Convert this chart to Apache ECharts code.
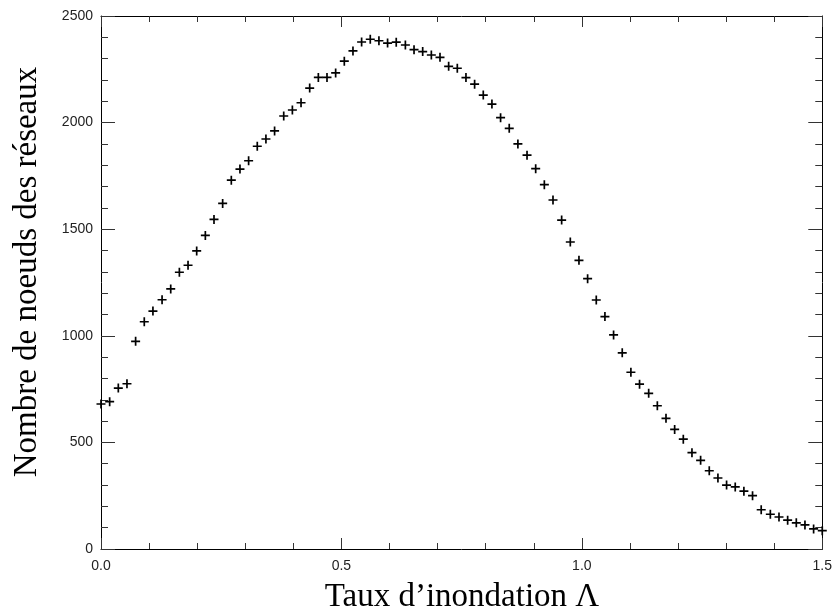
<!DOCTYPE html>
<html>
<head>
<meta charset="utf-8">
<script src="https://cdn.jsdelivr.net/npm/echarts@6/dist/echarts.min.js"></script>
<style>
html,body{margin:0;padding:0;background:#fff;}
#chart{width:835px;height:615px;}
</style>
</head>
<body>
<div id="chart"></div>
<script>
const xValues = [0.000,0.018,0.036,0.054,0.072,0.090,0.108,0.127,0.145,0.163,0.181,0.199,0.217,0.235,0.253,0.271,0.289,0.307,0.325,0.343,0.361,0.380,0.398,0.416,0.434,0.452,0.470,0.488,0.506,0.524,0.542,0.560,0.578,0.596,0.614,0.633,0.651,0.669,0.687,0.705,0.723,0.741,0.759,0.777,0.795,0.813,0.831,0.849,0.867,0.886,0.904,0.922,0.940,0.958,0.976,0.994,1.012,1.030,1.048,1.066,1.084,1.102,1.120,1.139,1.157,1.175,1.193,1.211,1.229,1.247,1.265,1.283,1.301,1.319,1.337,1.355,1.373,1.392,1.410,1.428,1.446,1.464,1.482,1.500];
const nodeCounts = [680,691,755,775,974,1066,1116,1169,1220,1298,1331,1398,1471,1546,1621,1730,1782,1821,1889,1923,1961,2031,2059,2093,2162,2212,2212,2233,2288,2336,2378,2391,2384,2373,2377,2364,2342,2333,2317,2306,2264,2255,2211,2180,2129,2087,2023,1973,1900,1847,1784,1709,1637,1543,1440,1354,1268,1168,1090,1004,920,829,773,730,672,613,561,515,452,416,367,333,300,291,271,250,184,163,150,135,123,113,94,86];
const xTitle = "Taux d\u2019inondation \u039B";
const yTitle = "Nombre de noeuds des r\u00e9seaux";

const chart = echarts.init(document.getElementById('chart'), null, {renderer:'canvas'});
const lineStyle = {color:'#000', width:1};
const tickStyle = {color:'#333', width:1};
const labelFont = {fontFamily:'Liberation Sans', fontSize:14, color:'#222'};
function xAx(pos, labels){
  return {type:'value', position:pos, min:0, max:1.5, interval:0.5,
    axisLine:{show:true, onZero:false, lineStyle:lineStyle},
    axisTick:{show:true, inside:true, length:11, lineStyle:tickStyle},
    minorTick:{show:true, splitNumber:5, length:6, lineStyle:tickStyle},
    splitLine:{show:false}, minorSplitLine:{show:false},
    axisLabel:Object.assign({show:labels, margin:10, formatter:v=>v.toFixed(1)}, labelFont)};
}
function yAx(pos, labels){
  return {type:'value', position:pos, min:0, max:2500, interval:500,
    axisLine:{show:true, onZero:false, lineStyle:lineStyle},
    axisTick:{show:true, inside:true, length:14, lineStyle:tickStyle},
    minorTick:{show:true, splitNumber:5, length:7, lineStyle:tickStyle},
    splitLine:{show:false}, minorSplitLine:{show:false},
    axisLabel:Object.assign({show:labels, margin:8, formatter:v=>String(v)}, labelFont)};
}
chart.setOption({
  animation:false,
  backgroundColor:'#fff',
  grid:{left:101, right:12, top:16, bottom:66, containLabel:false},
  xAxis:[xAx('bottom', true), xAx('top', false)],
  yAxis:[yAx('left', true), yAx('right', false)],
  series:[{
    type:'scatter', xAxisIndex:0, yAxisIndex:0,
    data: xValues.map((x,i)=>[x, nodeCounts[i]]),
    symbol:'path://M0,5L10,5M5,0L5,10',
    symbolSize:9, clip:false,
    itemStyle:{color:'rgba(0,0,0,0)', borderColor:'#000', borderWidth:1.7, opacity:1}
  }],
  graphic:[
    {type:'text', x:462, y:597, style:{text:xTitle, fontFamily:'Liberation Serif', fontSize:33, fill:'#000', textAlign:'center', textVerticalAlign:'middle'}},
    {type:'text', x:27, y:272, rotation:Math.PI/2, style:{text:yTitle, fontFamily:'Liberation Serif', fontSize:33, fill:'#000', textAlign:'center', textVerticalAlign:'middle'}}
  ]
});
</script>
</body>
</html>
